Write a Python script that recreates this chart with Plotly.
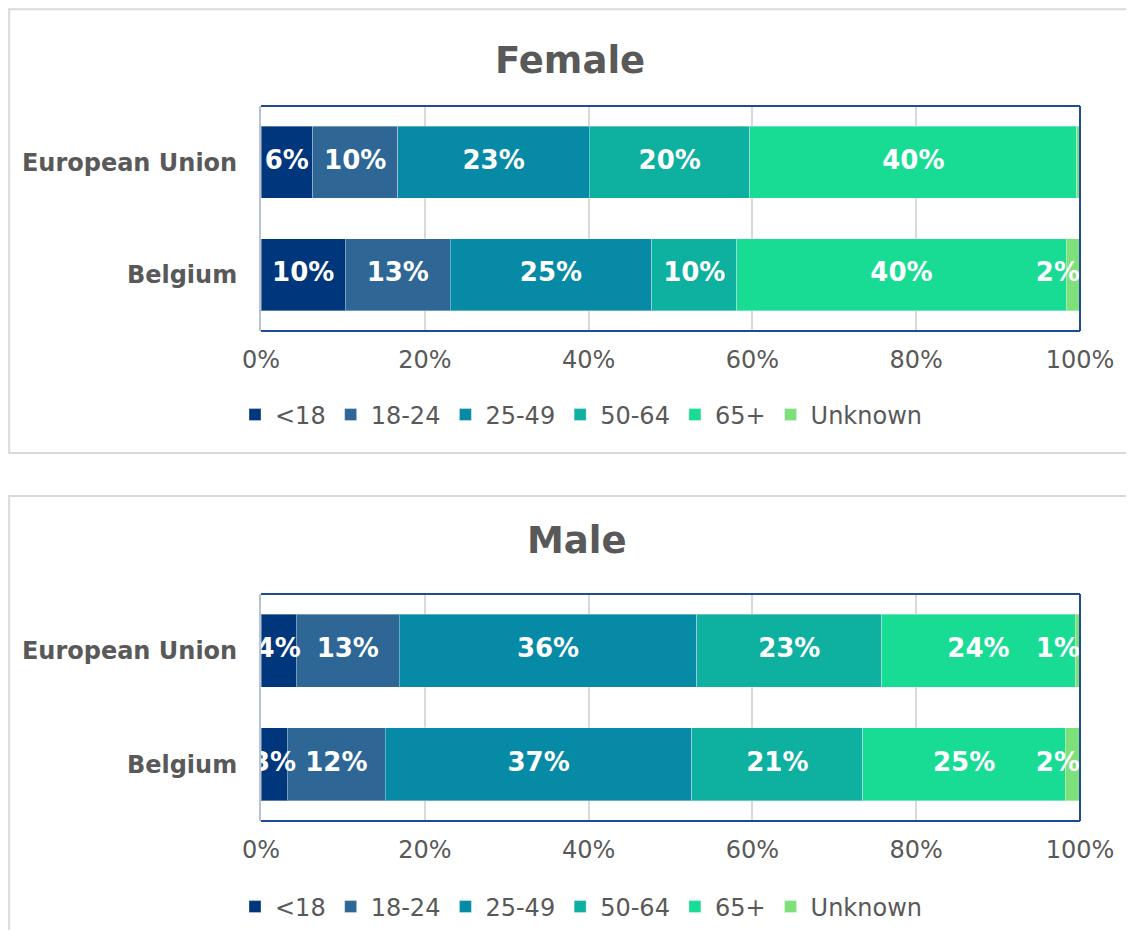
import plotly.graph_objects as go

# ---------------- data ----------------
categories = ["European Union", "Belgium"]
age_groups = ["<18", "18-24", "25-49", "50-64", "65+", "Unknown"]

female_eu = [6.3, 10.4, 23.4, 19.6, 39.9, 0.4]
female_be = [10.3, 12.8, 24.6, 10.4, 40.2, 1.7]
male_eu = [4.3, 12.6, 36.3, 22.6, 23.6, 0.6]
male_be = [3.2, 12.0, 37.4, 20.9, 24.7, 1.8]

x_tick_vals = [0, 20, 40, 60, 80, 100]
x_tick_text = ["0%", "20%", "40%", "60%", "80%", "100%"]

panel_titles = ["Female", "Male"]

colors = ["#00367C", "#2E6796", "#068AA6", "#0EB0A0", "#19DC94", "#7DE07A"]

# ---------------- styling ----------------
OFF = 8                      # default page body margin
W, H = 1134 - 2 * OFF, 938 - 2 * OFF
FONT = "DejaVu Sans"
GRAY = "#595959"
NAVY = "#1F4A94"


def px_x(v):
    return (v - OFF) / W


def px_y(v):
    return 1 - (v - OFF) / H


fig = go.Figure()

panels = [
    dict(data={"European Union": female_eu, "Belgium": female_be},
         xa="x", ya="y", legend="legend"),
    dict(data={"European Union": male_eu, "Belgium": male_be},
         xa="x2", ya="y2", legend="legend2"),
]

for p in panels:
    for gi, grp in enumerate(age_groups):
        fig.add_trace(go.Bar(
            x=[p["data"][c][gi] for c in categories],
            y=categories,
            orientation="h",
            name=grp,
            marker=dict(color=colors[gi], line=dict(color="rgba(255,255,255,0.35)", width=1)),
            xaxis=p["xa"], yaxis=p["ya"],
            legend=p["legend"],
            hoverinfo="skip",
        ))
    # data labels
    for c in categories:
        vals = p["data"][c]
        cum = 0
        xs, txt, pos = [], [], []
        for gi, v in enumerate(vals):
            lab = f"{round(v)}%" if round(v) >= 1 else ""
            if gi == len(vals) - 1:
                xs.append(100)
                pos.append("middle left")
            else:
                xs.append(cum + v / 2)
                pos.append("middle center")
            txt.append(lab)
            cum += v
        fig.add_trace(go.Scatter(
            x=xs, y=[c] * len(xs), mode="text", text=txt, textposition=pos,
            textfont=dict(family=FONT, size=26, color="white", weight="bold"),
            xaxis=p["xa"], yaxis=p["ya"], showlegend=False, hoverinfo="skip",
            cliponaxis=True,
        ))

x_dom = [px_x(261), px_x(1080)]
y_doms = [[px_y(331), px_y(106)], [px_y(821), px_y(594)]]

axis_common_x = dict(
    domain=x_dom, range=[0, 100], tickvals=x_tick_vals, ticktext=x_tick_text,
    showgrid=True, gridcolor="#D9D9D9", gridwidth=1.5, zeroline=False,
    tickfont=dict(family=FONT, size=24, color=GRAY), ticks="",
    ticklabelstandoff=12, showline=False, fixedrange=True, automargin=False,
)
axis_common_y = dict(
    type="category", categoryorder="array", categoryarray=categories[::-1],
    tickfont=dict(family=FONT, size=24, color=GRAY, weight="bold"), ticks="",
    ticklabelstandoff=17, showline=True, linecolor="#B8C4D6", linewidth=2,
    showgrid=False, fixedrange=True, automargin=False,
)

fig.update_layout(
    xaxis=dict(axis_common_x, anchor="y"),
    yaxis=dict(axis_common_y, domain=y_doms[0], anchor="x"),
    xaxis2=dict(axis_common_x, anchor="y2"),
    yaxis2=dict(axis_common_y, domain=y_doms[1], anchor="x2"),
)

shapes = []
# panel borders (kept 1px inside the figure edge so they stay visible)
bx0 = 1.2 / W
shapes.append(dict(type="rect", xref="paper", yref="paper",
                   x0=bx0, x1=1.05, y0=px_y(453), y1=1 - 1.2 / H,
                   line=dict(color="#D9D9D9", width=2), layer="below"))
shapes.append(dict(type="rect", xref="paper", yref="paper",
                   x0=bx0, x1=1.05, y0=-0.05, y1=px_y(496),
                   line=dict(color="#D9D9D9", width=2), layer="below"))
# plot-area frames (top, right, bottom)
for xa, ya in [("x", "y"), ("x2", "y2")]:
    xr, yr = f"{xa} domain", f"{ya} domain"
    shapes.append(dict(type="line", xref=xr, yref=yr, x0=0, x1=1, y0=1, y1=1,
                       line=dict(color=NAVY, width=2), layer="above"))
    shapes.append(dict(type="line", xref=xr, yref=yr, x0=0, x1=1, y0=0, y1=0,
                       line=dict(color=NAVY, width=2), layer="above"))
    shapes.append(dict(type="line", xref=xr, yref=yr, x0=1, x1=1, y0=0, y1=1,
                       line=dict(color=NAVY, width=2), layer="above"))

annotations = [
    dict(text=f"<b>{panel_titles[0]}</b>", x=px_x(570), y=px_y(60), xref="paper", yref="paper",
         showarrow=False, font=dict(family=FONT, size=37, color=GRAY), xanchor="center", yanchor="middle"),
    dict(text=f"<b>{panel_titles[1]}</b>", x=px_x(577), y=px_y(540), xref="paper", yref="paper",
         showarrow=False, font=dict(family=FONT, size=37, color=GRAY), xanchor="center", yanchor="middle"),
]

legend_common = dict(
    orientation="h", xanchor="center", x=px_x(581), yanchor="middle",
    font=dict(family=FONT, size=24, color=GRAY), bgcolor="rgba(0,0,0,0)",
    traceorder="normal", itemclick=False, itemdoubleclick=False,
)

fig.update_layout(
    width=W, height=H, margin=dict(l=0, r=0, t=0, b=0, autoexpand=False),
    paper_bgcolor="white", plot_bgcolor="white",
    barmode="stack", bargap=0.36,
    shapes=shapes, annotations=annotations,
    legend=dict(legend_common, y=px_y(415)),
    legend2=dict(legend_common, y=px_y(907)),
    font=dict(family=FONT, color=GRAY),
)

fig.write_html("out.html")
